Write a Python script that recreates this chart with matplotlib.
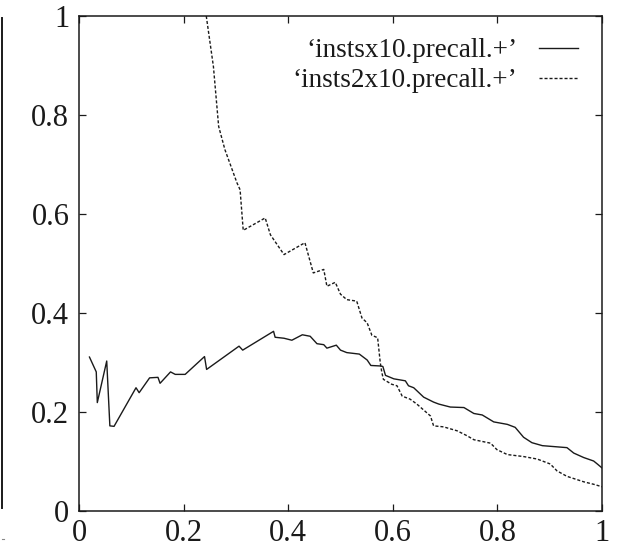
import matplotlib
matplotlib.use("Agg")
import matplotlib.pyplot as plt
from matplotlib.lines import Line2D

plt.rcParams['font.family'] = ['Liberation Serif', 'DejaVu Serif']

# ---- data ----
solid_label = "\u2018instsx10.precall.+\u2019"
dashed_label = "\u2018insts2x10.precall.+\u2019"

solid_x = [0.020, 0.033, 0.035, 0.053, 0.059, 0.067, 0.109, 0.115, 0.135, 0.151,
           0.155, 0.175, 0.184, 0.203, 0.240, 0.244, 0.306, 0.313, 0.372, 0.375,
           0.392, 0.407, 0.427, 0.442, 0.455, 0.468, 0.474, 0.492, 0.500, 0.512,
           0.536, 0.551, 0.558, 0.576, 0.581, 0.586, 0.602, 0.624, 0.630, 0.640,
           0.659, 0.678, 0.688, 0.710, 0.736, 0.755, 0.771, 0.793, 0.819, 0.834,
           0.850, 0.866, 0.886, 0.933, 0.946, 0.965, 0.984, 0.991, 1.000]
solid_y = [0.311, 0.281, 0.219, 0.303, 0.172, 0.171, 0.249, 0.239, 0.269, 0.270,
           0.258, 0.281, 0.276, 0.276, 0.312, 0.286, 0.333, 0.325, 0.363, 0.351,
           0.349, 0.345, 0.356, 0.353, 0.338, 0.336, 0.329, 0.335, 0.325, 0.320,
           0.317, 0.305, 0.294, 0.293, 0.292, 0.274, 0.267, 0.263, 0.253, 0.249,
           0.230, 0.220, 0.216, 0.210, 0.209, 0.197, 0.194, 0.180, 0.175, 0.169,
           0.149, 0.138, 0.132, 0.128, 0.117, 0.108, 0.101, 0.095, 0.087]

dashed_x = [0.242, 0.257, 0.267, 0.279, 0.302, 0.308, 0.314, 0.356, 0.366, 0.392,
            0.432, 0.448, 0.468, 0.474, 0.490, 0.500, 0.512, 0.531, 0.541, 0.551,
            0.560, 0.571, 0.576, 0.579, 0.582, 0.598, 0.608, 0.618, 0.633, 0.646,
            0.672, 0.678, 0.697, 0.723, 0.742, 0.755, 0.787, 0.799, 0.819, 0.850,
            0.876, 0.901, 0.914, 0.933, 0.965, 0.984, 1.000]
dashed_y = [1.010, 0.898, 0.777, 0.730, 0.663, 0.649, 0.567, 0.592, 0.558, 0.518,
            0.542, 0.481, 0.488, 0.454, 0.462, 0.438, 0.427, 0.424, 0.390, 0.380,
            0.355, 0.350, 0.300, 0.280, 0.266, 0.256, 0.253, 0.232, 0.226, 0.216,
            0.192, 0.172, 0.170, 0.162, 0.152, 0.144, 0.137, 0.124, 0.114, 0.110,
            0.105, 0.095, 0.081, 0.070, 0.059, 0.054, 0.049]

xticks = [0, 0.2, 0.4, 0.6, 0.8, 1]
xtick_labels = ["0", "0.2", "0.4", "0.6", "0.8", "1"]
yticks = [0, 0.2, 0.4, 0.6, 0.8, 1]
ytick_labels = ["0", "0.2", "0.4", "0.6", "0.8", "1"]

# ---- figure ----
W, H = 623, 548
fig = plt.figure(figsize=(W / 100, H / 100), dpi=100)
ax = fig.add_axes([79 / W, 1 - 511 / H, (602 - 79) / W, (511 - 16) / H])

col = "#1a1a1a"
ax.plot(solid_x, solid_y, color=col, lw=1.0, label=solid_label)
ax.plot(dashed_x, dashed_y, color=col, lw=1.0, dashes=(2.2, 1.4), label=dashed_label)

ax.set_xlim(0, 1)
ax.set_ylim(0, 1)
ax.set_xticks(xticks)
ax.set_xticklabels(xtick_labels)
ax.set_yticks(yticks)
ax.set_yticklabels(ytick_labels)
ax.tick_params(direction='in', length=5, width=0.9, top=True, right=True,
               labelsize=22, colors=col)
ax.tick_params(axis='x', pad=6)
ax.tick_params(axis='y', pad=7)
for s in ax.spines.values():
    s.set_linewidth(1.1)
    s.set_color(col)

leg = ax.legend(loc='upper right', markerfirst=False, frameon=False,
                fontsize=19.5, handlelength=1.45, handletextpad=0.78,
                labelspacing=0.2, borderpad=0.0, borderaxespad=0.0)
leg.set_bbox_to_anchor(((578 - 79) / 523, 1 - 22 / 495), transform=ax.transAxes)
for t in leg.get_texts():
    t.set_color(col)

# neighbouring-figure edge on the far left
fig.add_artist(Line2D([2.5 / W, 2.5 / W], [1 - 18 / H, 1 - 508 / H],
                      transform=fig.transFigure, color=col, lw=1.4))
fig.add_artist(Line2D([1.5 / W, 4 / W], [1 - 539 / H, 1 - 539 / H],
                      transform=fig.transFigure, color="#888888", lw=0.8))

fig.savefig("out.png", dpi=100)
